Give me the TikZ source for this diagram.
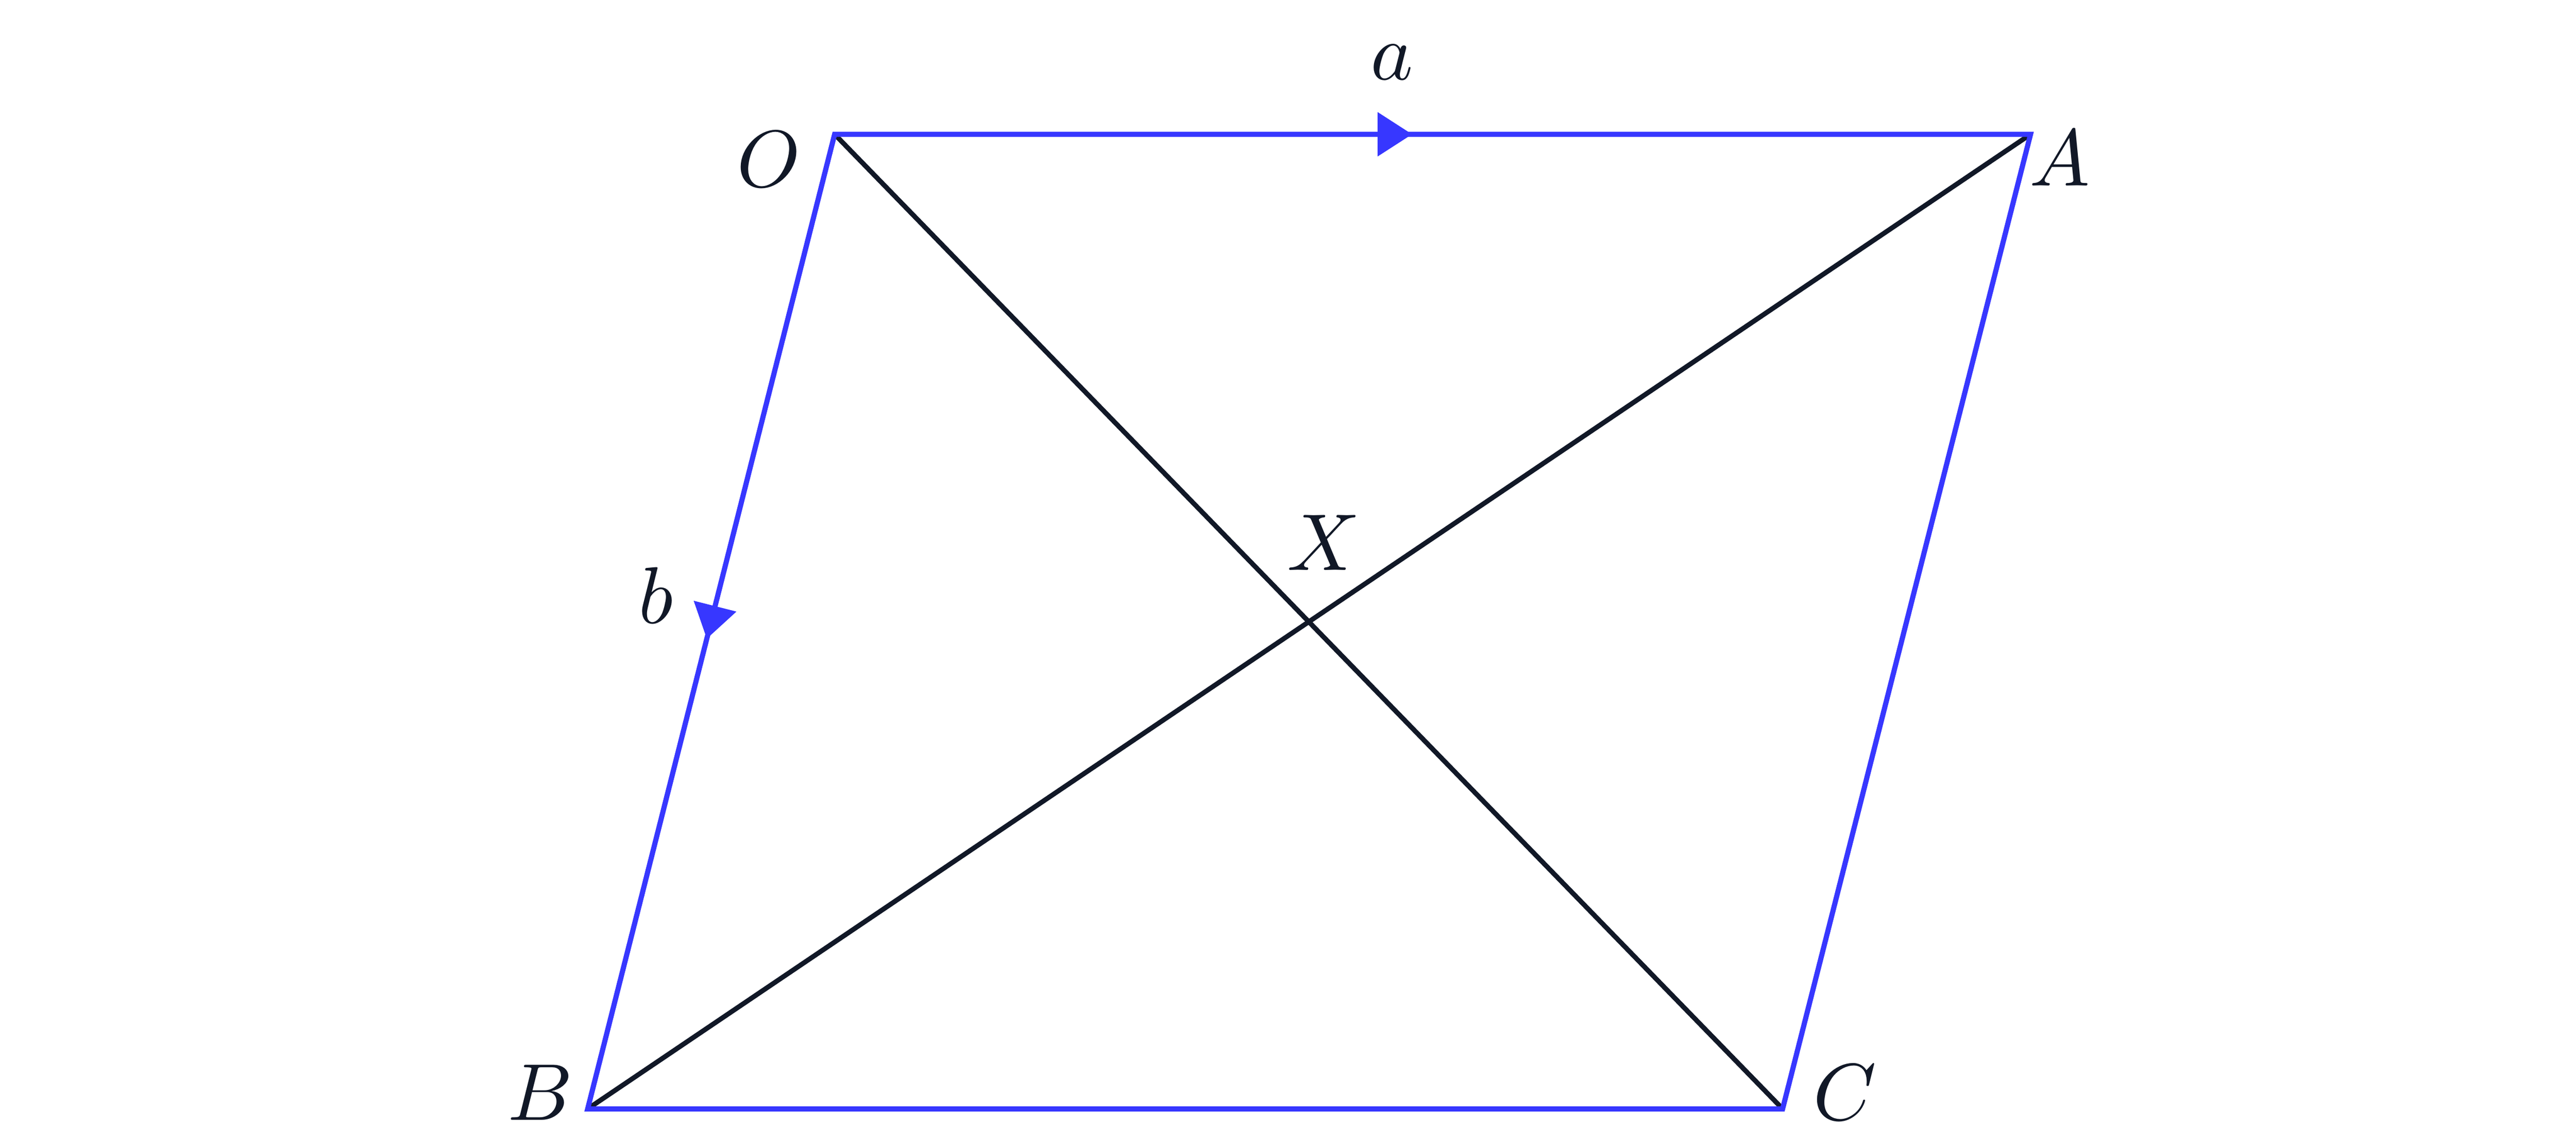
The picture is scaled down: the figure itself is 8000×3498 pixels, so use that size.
\documentclass[tikz,border=0pt]{standalone}
\usetikzlibrary{calc}
\definecolor{vecblue}{RGB}{55,55,255}
\definecolor{ink}{RGB}{17,24,39}
\tikzset{
  vecline/.style={draw=vecblue, line width=0.64pt, line join=miter},
  diag/.style={draw=ink, line width=0.6pt},
  lbl/.style={inner sep=0pt, text=ink, font=\fontsize{10}{12}\selectfont},
  head/.style={fill=vecblue, draw=none}
}
\begin{document}
\begin{tikzpicture}[x=0.04pt, y=-0.04pt]
\useasboundingbox (0,0) rectangle (8000,3498);
\coordinate (O) at (2592,417);
\coordinate (A) at (6306,417);
\coordinate (B) at (1825,3443);
\coordinate (C) at (5536,3443);
% diagonals
\draw[diag] (O) -- (C);
\draw[diag] (A) -- (B);
% parallelogram
\draw[vecline] (O) -- (A) -- (C) -- (B) -- cycle;
% arrowhead on OA
\coordinate (ta) at ($(O)!0.4828!(A)$);
\coordinate (ba) at ($(ta)!4.28pt!(O)$);
\fill[head] (ta) -- ($(ba)!2.76pt!90:(ta)$) -- ($(ba)!2.76pt!-90:(ta)$) -- cycle;
% arrowhead on OB
\coordinate (tb) at ($(O)!0.5175!(B)$);
\coordinate (bb) at ($(tb)!4.16pt!(O)$);
\fill[head] (tb) -- ($(bb)!2.74pt!90:(tb)$) -- ($(bb)!2.74pt!-90:(tb)$) -- cycle;
% labels
\node[lbl] (lO) at (2388,495) {$O$};
\node[lbl] (lA) at (6397,492) {$A$};
\node[lbl] (lB) at (1678,3392) {$B$};
\node[lbl] (lC) at (5730,3392) {$C$};
\node[lbl] (lX) at (4111,1685) {$X$};
\node[lbl] (la) at (4323,194) {$a$};
\node[lbl] (lb) at (2037,1848) {$b$};
\end{tikzpicture}
\end{document}
